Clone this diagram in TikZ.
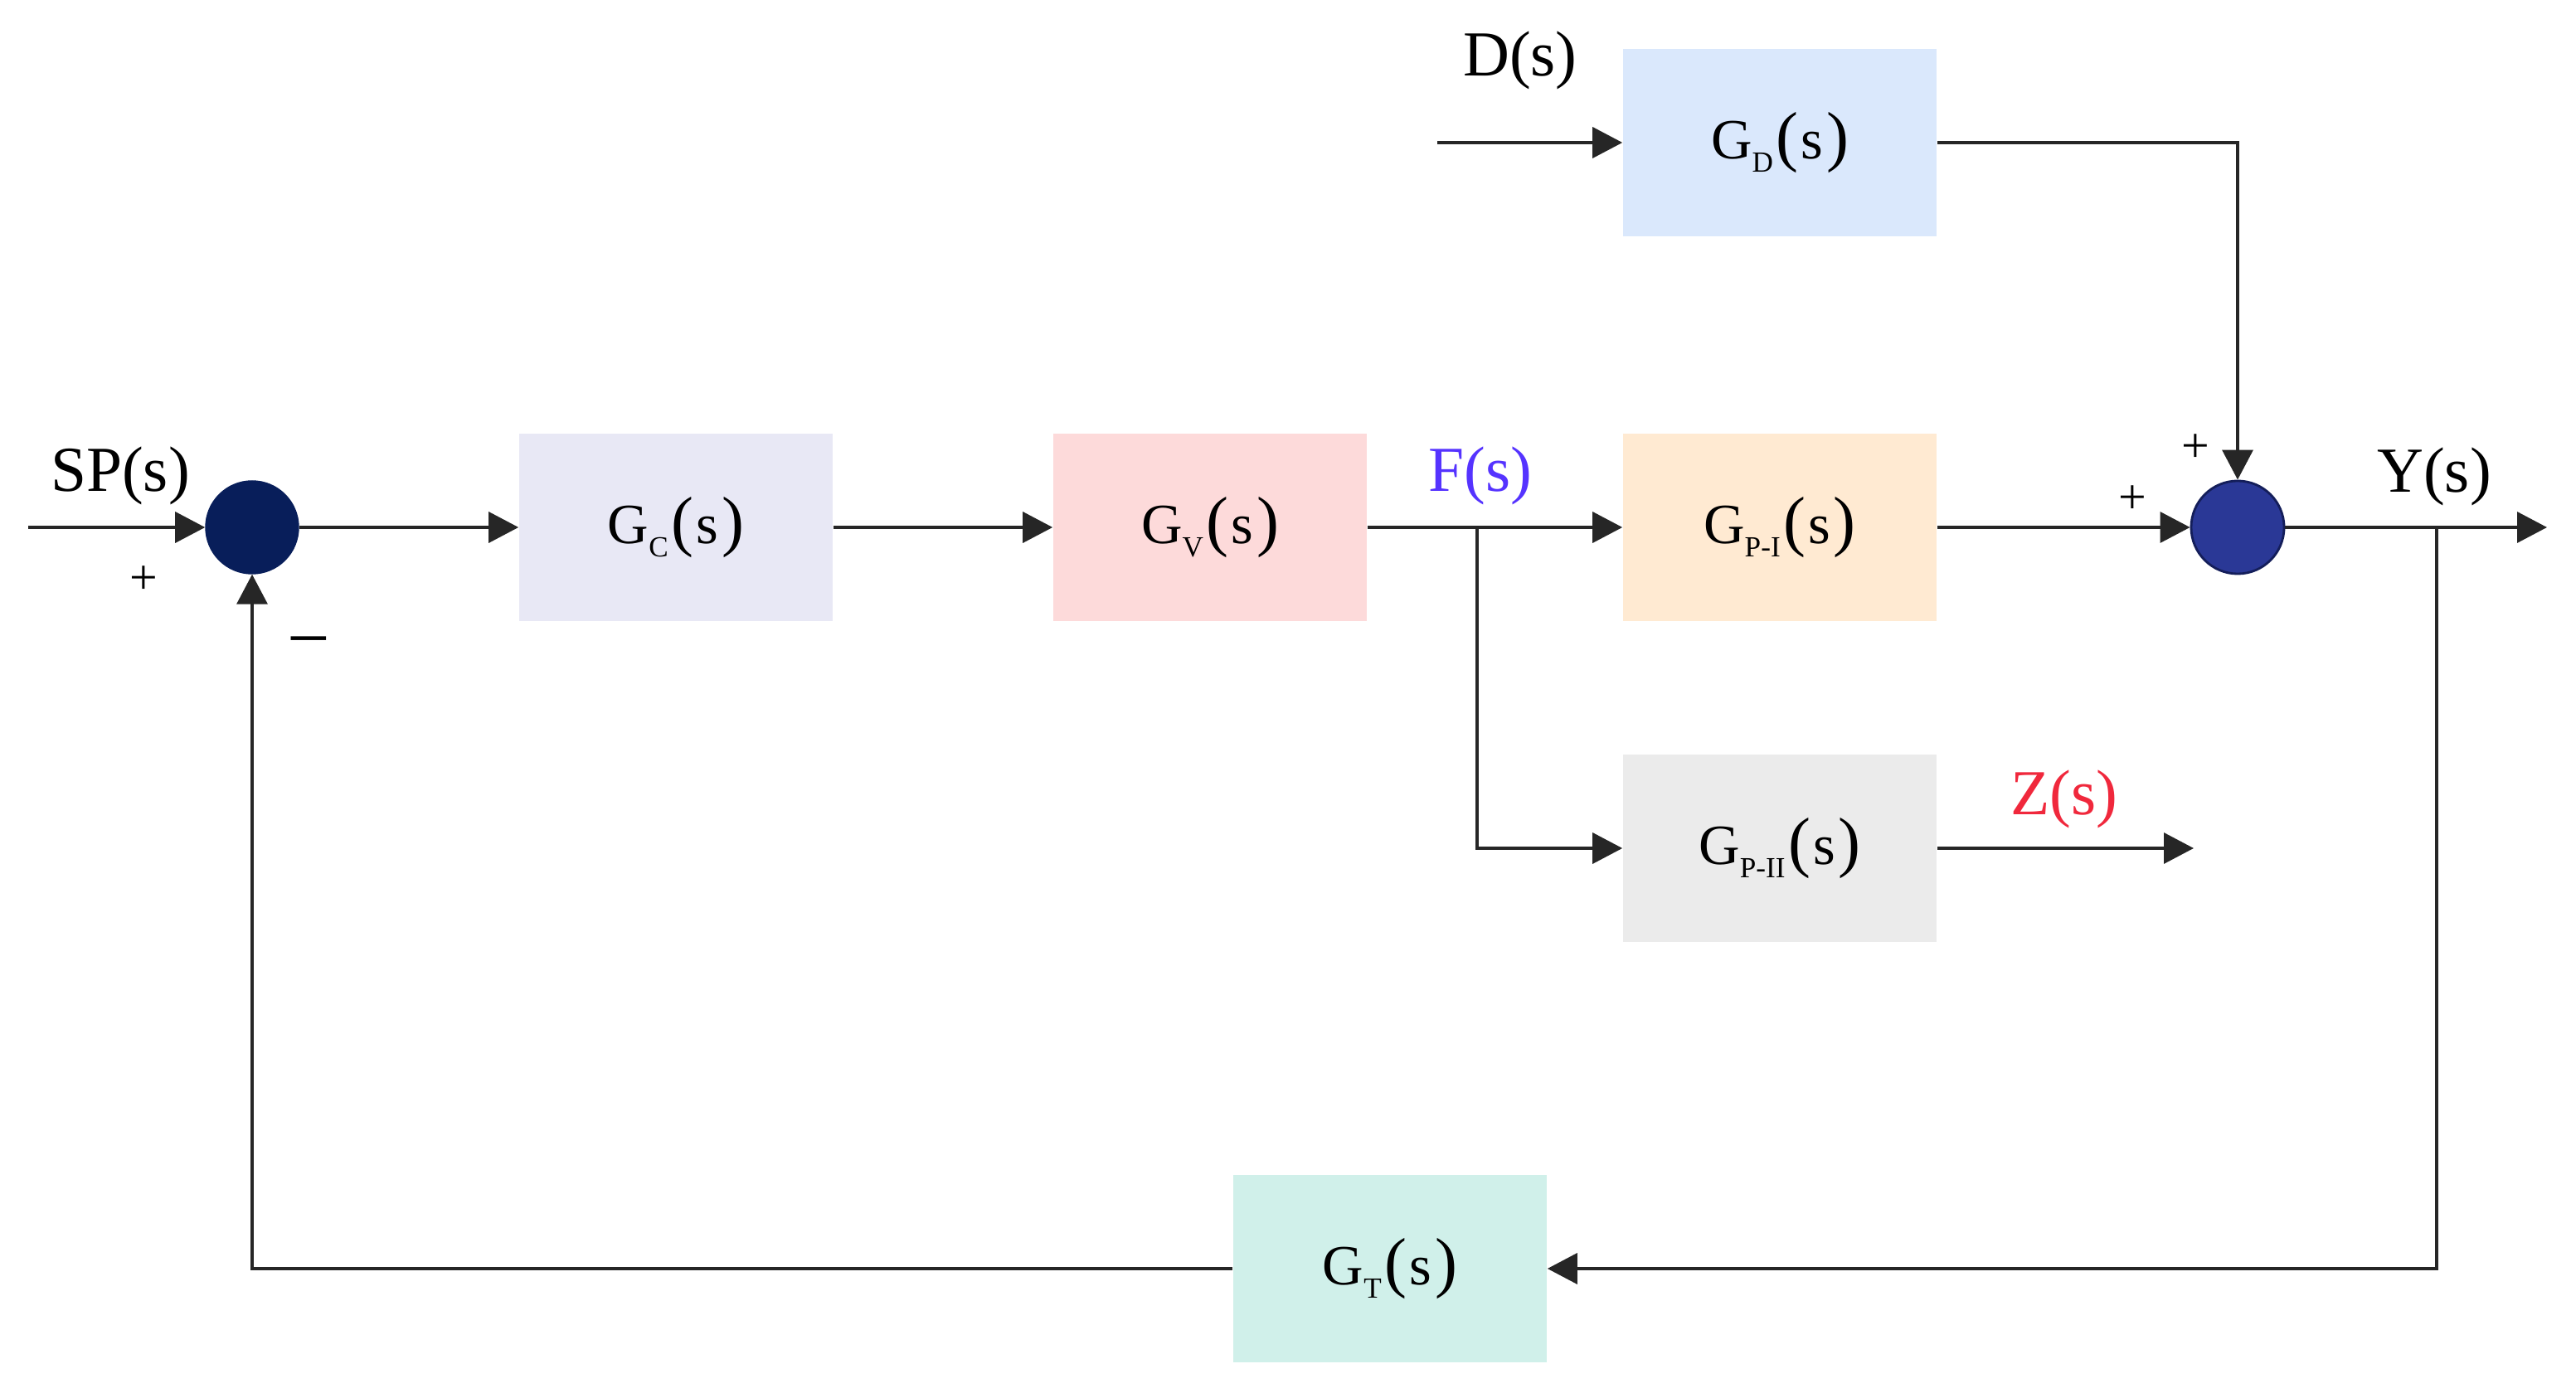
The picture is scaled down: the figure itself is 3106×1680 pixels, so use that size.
\documentclass[tikz,border=0pt]{standalone}
\usepackage{fontspec}
\setmainfont{Liberation Serif}
\usetikzlibrary{arrows.meta}
\definecolor{cgc}{RGB}{232,232,245}
\definecolor{cgv}{RGB}{253,218,218}
\definecolor{cgd}{RGB}{218,232,252}
\definecolor{cgp}{RGB}{255,234,210}
\definecolor{cgq}{RGB}{235,235,235}
\definecolor{cgt}{RGB}{208,240,234}
\definecolor{navyA}{RGB}{8,30,90}
\definecolor{navyB}{RGB}{42,56,150}
\definecolor{navyBd}{RGB}{20,30,90}
\definecolor{fblue}{RGB}{85,51,255}
\definecolor{zred}{RGB}{240,40,60}
\newcommand{\gsubx}[1]{\raisebox{-0.5ex}{\fontsize{10}{10}\selectfont #1}}
\newcommand{\bigpar}[1]{{\fontsize{23}{23}\selectfont #1}}
\newcommand{\gfun}[1]{G\gsubx{#1}\kern1pt\bigpar{(}\kern1pt s\kern1pt\bigpar{)}}
\tikzset{
  blk/.style={rectangle, minimum width=3.78cm, minimum height=2.25cm, inner sep=0pt, font=\fontsize{19.5}{21}\selectfont},
  sumj/.style={circle, minimum size=1.12cm, inner sep=0pt},
  sig/.style={font=\fontsize{22}{24}\selectfont, inner sep=0pt},
  sgn/.style={font=\fontsize{17}{18}\selectfont, inner sep=0pt},
  con/.style={line width=1pt, draw={black!85}},
  arr/.style={con, -{Triangle[length=0.36cm,width=0.37cm]}},
}
\begin{document}
\begin{tikzpicture}[x=0.01cm, y=-0.01cm]
\useasboundingbox (0,0) rectangle (3106,1680);
% blocks
\node[blk, fill=cgc] (gc) at (815,636) {\gfun{C}};
\node[blk, fill=cgv] (gv) at (1459,636) {\gfun{V}};
\node[blk, fill=cgd] (gd) at (2146,172) {\gfun{D}};
\node[blk, fill=cgp] (gp1) at (2146,636) {\gfun{P-I}};
\node[blk, fill=cgq] (gp2) at (2146,1023) {\gfun{P-II}};
\node[blk, fill=cgt] (gt) at (1676,1530) {\gfun{T}};
% summing junctions
\node[sumj, fill=navyA, draw=navyA] (s1) at (304,636) {};
\node[sumj, fill=navyB, draw=navyBd, line width=0.8pt] (s2) at (2698,636) {};
% free ends
\coordinate (spin) at (34,636);
\coordinate (din) at (1733,172);
\coordinate (br1) at (1781,636);
\coordinate (br2) at (2938,636);
\coordinate (yout) at (3071,636);
\coordinate (zout) at (2645,1023);
% connectors
\draw[arr] (spin) -- (s1.west);
\draw[arr] (s1.east) -- (gc.west);
\draw[arr] (gc.east) -- (gv.west);
\draw[arr] (gv.east) -- (gp1.west);
\draw[arr] (br1) |- (gp2.west);
\draw[arr] (din) -- (gd.west);
\draw[arr] (gd.east) -| (s2.north);
\draw[arr] (gp1.east) -- (s2.west);
\draw[arr] (s2.east) -- (yout);
\draw[arr] (br2) |- (gt.east);
\draw[arr] (gt.west) -| (s1.south);
\draw[arr] (gp2.east) -- (zout);
% labels
\node[sig] (lsp) at (145,574) {SP(s)};
\node[sgn] (lp1) at (173,700) {+};
\node[sig, font=\fontsize{26}{26}\selectfont] (lm1) at (372,784) {−};
\node[sig, text=fblue] (lf) at (1785,574) {F(s)};
\node[sig] (ld) at (1833,73) {D(s)};
\node[sgn] (lp2) at (2647,541) {+};
\node[sgn] (lp3) at (2571,603) {+};
\node[sig] (ly) at (2935,575) {Y(s)};
\node[sig, text=zred] (lz) at (2489,964) {Z(s)};
\end{tikzpicture}
\end{document}
